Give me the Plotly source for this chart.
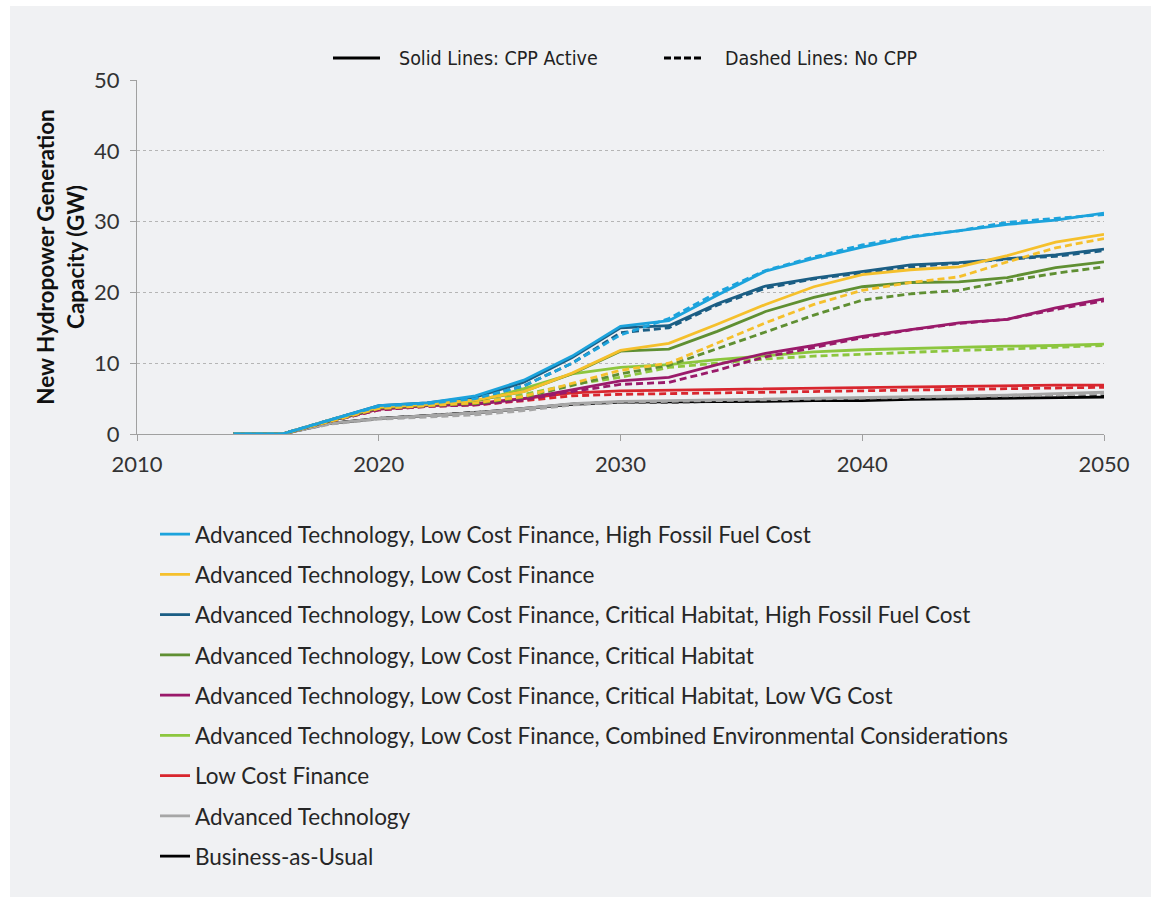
import plotly.graph_objects as go

# ---------------- data ----------------
years = [2014, 2016, 2018, 2020, 2022, 2024, 2026, 2028, 2030, 2032,
         2034, 2036, 2038, 2040, 2042, 2044, 2046, 2048, 2050]

series_names = [
    "Advanced Technology, Low Cost Finance, High Fossil Fuel Cost",
    "Advanced Technology, Low Cost Finance",
    "Advanced Technology, Low Cost Finance, Critical Habitat, High Fossil Fuel Cost",
    "Advanced Technology, Low Cost Finance, Critical Habitat",
    "Advanced Technology, Low Cost Finance, Critical Habitat, Low VG Cost",
    "Advanced Technology, Low Cost Finance, Combined Environmental Considerations",
    "Low Cost Finance",
    "Advanced Technology",
    "Business-as-Usual",
]

series_colors = ["#1ca3dc", "#f5c02c", "#1b5e84", "#5f8f32", "#9a1a6a",
                 "#8cc63e", "#d8262e", "#a6a6a6", "#000000"]

# Solid lines: CPP active
lb_solid = [0, 0, 2.0, 4.0, 4.4, 5.4, 7.6, 11.0, 15.2, 16.0, 19.6, 23.0, 24.8, 26.4, 27.8, 28.7, 29.6, 30.2, 31.2]
yl_solid = [0, 0, 2.0, 3.8, 4.2, 4.8, 6.0, 8.6, 11.8, 12.8, 15.5, 18.3, 20.8, 22.5, 23.2, 23.6, 25.2, 27.1, 28.2]
db_solid = [0, 0, 2.0, 4.0, 4.4, 5.2, 7.3, 10.8, 15.0, 15.3, 18.4, 20.9, 22.0, 23.0, 23.9, 24.2, 24.7, 25.3, 26.1]
ol_solid = [0, 0, 1.9, 3.7, 4.1, 4.7, 6.0, 8.5, 11.7, 12.0, 14.5, 17.3, 19.3, 20.8, 21.4, 21.5, 22.1, 23.5, 24.3]
pu_solid = [0, 0, 1.9, 3.5, 4.0, 4.2, 5.0, 6.3, 7.5, 8.0, 9.8, 11.4, 12.5, 13.8, 14.8, 15.7, 16.2, 17.8, 19.1]
lg_solid = [0, 0, 1.9, 3.6, 4.1, 4.6, 6.4, 8.5, 9.4, 9.8, 10.5, 11.0, 11.6, 11.9, 12.1, 12.2, 12.4, 12.5, 12.7]
rd_solid = [0, 0, 1.9, 3.5, 4.0, 4.3, 5.0, 5.8, 6.1, 6.2, 6.3, 6.4, 6.5, 6.6, 6.7, 6.8, 6.8, 6.9, 6.9]
gy_solid = [0, 0, 1.5, 2.2, 2.6, 3.0, 3.6, 4.3, 4.6, 4.7, 4.8, 4.9, 5.0, 5.2, 5.3, 5.4, 5.5, 5.7, 5.9]
bk_solid = [0, 0, 1.5, 2.2, 2.6, 3.0, 3.6, 4.2, 4.5, 4.5, 4.6, 4.6, 4.7, 4.7, 4.9, 5.0, 5.1, 5.1, 5.2]

# Dashed lines: no CPP
lb_dash = [0, 0, 2.0, 3.9, 4.3, 5.0, 6.8, 10.0, 14.0, 16.3, 20.0, 23.1, 25.0, 26.7, 27.9, 28.7, 29.9, 30.5, 31.0]
yl_dash = [0, 0, 1.8, 3.6, 4.0, 4.4, 5.3, 7.2, 9.0, 10.0, 12.8, 15.7, 18.3, 20.3, 21.4, 22.2, 24.3, 26.3, 27.6]
db_dash = [0, 0, 2.0, 3.9, 4.3, 5.0, 6.8, 10.0, 14.3, 15.0, 18.2, 20.6, 21.9, 22.8, 23.6, 24.1, 24.7, 25.1, 25.9]
ol_dash = [0, 0, 1.8, 3.6, 4.0, 4.3, 5.2, 6.8, 8.5, 9.7, 12.0, 14.4, 16.8, 18.9, 19.8, 20.3, 21.6, 22.7, 23.6]
pu_dash = [0, 0, 1.8, 3.4, 3.9, 4.1, 4.8, 6.0, 7.0, 7.3, 9.0, 10.9, 12.2, 13.6, 14.7, 15.6, 16.2, 17.6, 18.8]
lg_dash = [0, 0, 1.8, 3.5, 4.0, 4.3, 5.6, 7.0, 8.0, 9.4, 10.0, 10.6, 11.0, 11.3, 11.6, 11.8, 12.0, 12.3, 12.5]
rd_dash = [0, 0, 1.8, 3.4, 3.9, 4.1, 4.7, 5.4, 5.6, 5.7, 5.8, 5.9, 6.0, 6.1, 6.2, 6.3, 6.4, 6.5, 6.6]
gy_dash = [0, 0, 1.4, 2.1, 2.4, 2.7, 3.3, 4.1, 4.5, 4.6, 4.7, 4.8, 4.9, 5.1, 5.2, 5.3, 5.4, 5.5, 5.7]
bk_dash = [0, 0, 1.5, 2.2, 2.6, 3.0, 3.5, 4.2, 4.5, 4.5, 4.6, 4.7, 4.8, 4.9, 5.0, 5.1, 5.2, 5.3, 5.4]

solid_values = [lb_solid, yl_solid, db_solid, ol_solid, pu_solid, lg_solid, rd_solid, gy_solid, bk_solid]
dash_values = [lb_dash, yl_dash, db_dash, ol_dash, pu_dash, lg_dash, rd_dash, gy_dash, bk_dash]

x_ticks = [2010, 2020, 2030, 2040, 2050]
y_ticks = [0, 10, 20, 30, 40, 50]
y_title = "New Hydropower Generation<br>Capacity (GW)"
key_solid_text = "Solid Lines: CPP Active"
key_dash_text = "Dashed Lines: No CPP"

# ---------------- layout geometry ----------------
W, H = 1151, 897
ML, MT = 137, 80
PR, PB = 1104, 434
MR, MB = W - PR, H - PB
PW, PH = PR - ML, PB - MT

def px(sx):
    return (sx - ML) / PW

def py(sy):
    return (PB - sy) / PH

FONT = "Lato, 'Open Sans', sans-serif"
KEYFONT = "'Liberation Sans Narrow', 'DejaVu Sans Condensed', Lato, sans-serif"
BG = "#f0f1f3"

fig = go.Figure()

# draw in reverse so the first series sits on top
for i in reversed(range(len(series_names))):
    name, col = series_names[i], series_colors[i]
    fig.add_trace(go.Scatter(
        x=years, y=dash_values[i], mode="lines", name=name,
        legendgroup=f"g{i}", legendrank=i + 1, showlegend=False,
        line=dict(color=col, width=2.8, dash="7px,4px"),
        hoverinfo="skip"))
    fig.add_trace(go.Scatter(
        x=years, y=solid_values[i], mode="lines", name=name,
        legendgroup=f"g{i}", legendrank=i + 1, showlegend=True,
        line=dict(color=col, width=2.8)))

shapes = [
    dict(type="rect", xref="paper", yref="paper", layer="below",
         x0=px(10), x1=px(1160), y0=py(905), y1=py(6),
         fillcolor=BG, line=dict(width=0)),
    dict(type="line", xref="paper", yref="paper",
         x0=px(333), x1=px(380), y0=py(58), y1=py(58),
         line=dict(color="black", width=3)),
    dict(type="line", xref="paper", yref="paper",
         x0=px(664), x1=px(702), y0=py(58), y1=py(58),
         line=dict(color="black", width=3, dash="7px,3px")),
]
annotations = [
    dict(text=key_solid_text, xref="paper", yref="paper", x=px(397), y=py(58),
         xanchor="left", yanchor="middle", showarrow=False,
         font=dict(family=KEYFONT, size=19.5, color="#222")),
    dict(text=key_dash_text, xref="paper", yref="paper", x=px(723), y=py(58),
         xanchor="left", yanchor="middle", showarrow=False,
         font=dict(family=KEYFONT, size=19.5, color="#222")),
]

fig.update_layout(
    width=W, height=H,
    margin=dict(l=ML, r=MR, t=MT, b=MB, autoexpand=False),
    paper_bgcolor="white", plot_bgcolor=BG,
    font=dict(family=FONT, size=22, color="#333"),
    shapes=shapes, annotations=annotations,
    showlegend=True,
    legend=dict(
        x=px(155), y=py(513), xanchor="left", yanchor="top",
        orientation="v", traceorder="grouped", tracegroupgap=8,
        bgcolor="rgba(0,0,0,0)", borderwidth=0,
        font=dict(family=FONT, size=22.5, color="#262626"),
        itemwidth=30,
    ),
    xaxis=dict(
        range=[2010, 2050], tickvals=x_ticks, ticktext=[str(v) for v in x_ticks],
        showgrid=False, zeroline=False, showline=True, linecolor="#a0a0a0", linewidth=1.2,
        ticks="outside", ticklen=6, tickcolor="#a0a0a0", ticklabelstandoff=4,
        tickfont=dict(family=FONT, size=22, color="#333"),
    ),
    yaxis=dict(
        range=[0, 50], tickvals=y_ticks,
        showgrid=True, gridcolor="#b5b5b5", griddash="dot", gridwidth=1,
        zeroline=False, showline=True, linecolor="#a0a0a0", linewidth=1.2,
        ticks="outside", ticklen=6, tickcolor="#a0a0a0", ticklabelstandoff=6,
        tickfont=dict(family=FONT, size=22, color="#333"),
        title=dict(text="<b>" + y_title + "</b>", standoff=3,
                   font=dict(family=FONT, size=22.5, color="#111")),
    ),
)

fig.write_html(
    "out.html",
    config={"displayModeBar": False},
    post_script="document.body.style.margin='0px';document.documentElement.style.overflow='hidden';",
)
